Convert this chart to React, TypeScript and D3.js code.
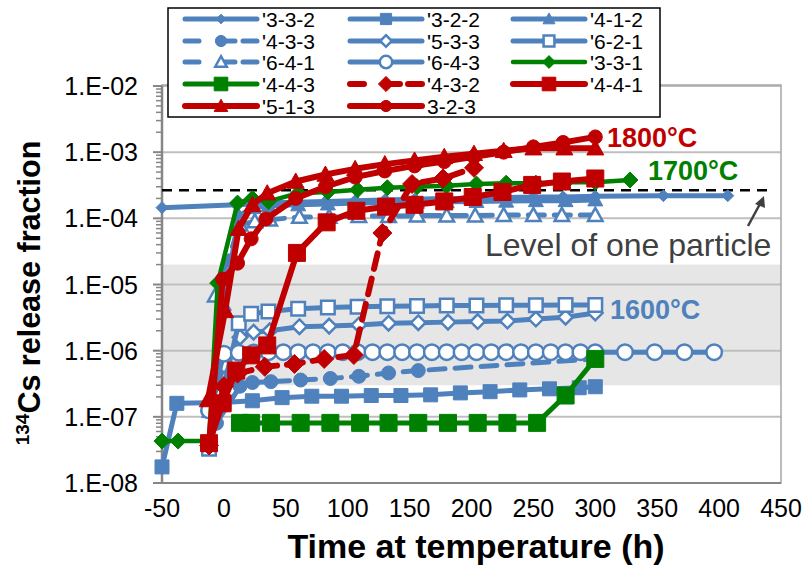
import React from "react";
import * as d3 from "d3";

// ---------- data ----------
const xTicks = [-50, 0, 50, 100, 150, 200, 250, 300, 350, 400, 450];
const yTickLabels = ["1.E-08", "1.E-07", "1.E-06", "1.E-05", "1.E-04", "1.E-03", "1.E-02"];
const yTickValues = [1e-8, 1e-7, 1e-6, 1e-5, 1e-4, 1e-3, 1e-2];

const t332 = [-50, 10, 34, 58, 82, 106, 130, 154, 178, 202, 226, 250, 274, 300, 355, 407];
const v332 = [1.45e-4, 1.6e-4, 1.7e-4, 1.75e-4, 1.8e-4, 1.85e-4, 1.9e-4, 1.95e-4, 2.0e-4, 2.0e-4, 2.05e-4, 2.1e-4, 2.1e-4, 2.15e-4, 2.2e-4, 2.2e-4];

const t322 = [-50, -38, 0, 23, 47, 71, 95, 119, 143, 167, 191, 215, 239, 263, 287, 300];
const v322 = [1.75e-8, 1.6e-7, 1.65e-7, 1.75e-7, 1.95e-7, 2.05e-7, 2.05e-7, 2.1e-7, 2.1e-7, 2.15e-7, 2.3e-7, 2.4e-7, 2.55e-7, 2.65e-7, 2.75e-7, 2.85e-7];

const t412 = [-12, 0, 12, 24, 36, 60, 84, 108, 132, 156, 180, 204, 228, 252, 276, 300];
const v412 = [1.2e-7, 5e-6, 1.1e-4, 1.45e-4, 1.55e-4, 1.6e-4, 1.65e-4, 1.7e-4, 1.72e-4, 1.75e-4, 1.78e-4, 1.8e-4, 1.82e-4, 1.85e-4, 1.85e-4, 1.9e-4];

const t433 = [-6, 13, 23, 38, 62, 86, 109, 133, 157, 300];
const v433 = [8e-8, 2.9e-7, 3.3e-7, 3.4e-7, 3.6e-7, 3.8e-7, 4.1e-7, 4.6e-7, 5e-7, 7.5e-7];

const t533 = [-12, 0, 13, 24, 37, 61, 85, 109, 133, 157, 181, 205, 229, 252, 276, 300];
const v533 = [1.2e-7, 6e-7, 1.6e-6, 1.9e-6, 2.0e-6, 2.3e-6, 2.35e-6, 2.45e-6, 2.6e-6, 2.65e-6, 2.7e-6, 2.75e-6, 2.8e-6, 3.0e-6, 3.2e-6, 3.7e-6];

const t621 = [-12, 12, 22, 36, 60, 84, 108, 132, 156, 180, 204, 228, 252, 276, 300];
const v621 = [3.3e-8, 2.6e-6, 3.6e-6, 3.9e-6, 4.3e-6, 4.5e-6, 4.6e-6, 4.7e-6, 4.75e-6, 4.8e-6, 4.8e-6, 4.85e-6, 4.85e-6, 4.9e-6, 4.9e-6];

const t641 = [-7, 13, 25, 37, 61, 85, 109, 133, 156, 180, 203, 226, 250, 273, 300];
const v641 = [6.8e-6, 8e-5, 9e-5, 9.5e-5, 1.05e-4, 1.05e-4, 1.08e-4, 1.08e-4, 1.1e-4, 1.1e-4, 1.1e-4, 1.12e-4, 1.12e-4, 1.12e-4, 1.12e-4];

const t643 = [-12, 0, 12, 24, 36, 48, 60, 72, 84, 96, 108, 120, 132, 144, 156, 168, 180, 192, 204, 216, 228, 240, 252, 264, 276, 288, 300, 324, 348, 372, 396];
const v643 = [1.25e-7, 9e-7, 9.3e-7, 9.4e-7, 9.5e-7, 9.5e-7, 9.5e-7, 9.5e-7, 9.5e-7, 9.5e-7, 9.5e-7, 9.5e-7, 9.5e-7, 9.5e-7, 9.5e-7, 9.5e-7, 9.5e-7, 9.5e-7, 9.5e-7, 9.5e-7, 9.5e-7, 9.5e-7, 9.5e-7, 9.5e-7, 9.5e-7, 9.5e-7, 9.5e-7, 9.5e-7, 9.5e-7, 9.5e-7, 9.5e-7];

const t331 = [-50, -37, -12, -5, 11, 23, 36, 60, 84, 108, 132, 156, 180, 204, 228, 252, 276, 300, 328];
const v331 = [4.3e-8, 4.3e-8, 4.3e-8, 1.05e-5, 1.7e-4, 2.0e-4, 1.8e-4, 2.4e-4, 2.5e-4, 2.7e-4, 2.9e-4, 3.0e-4, 3.1e-4, 3.3e-4, 3.4e-4, 3.4e-4, 3.5e-4, 3.5e-4, 3.8e-4];

const t443 = [13, 22, 38, 62, 86, 110, 133, 157, 181, 205, 229, 253, 276, 300];
const v443 = [8.1e-8, 8.1e-8, 8.1e-8, 8.1e-8, 8.1e-8, 8.1e-8, 8.1e-8, 8.1e-8, 8.1e-8, 8.1e-8, 8.1e-8, 8.1e-8, 2.1e-7, 7.5e-7];

const t432 = [-12, 0, 11, 33, 57, 81, 105, 128, 152, 177, 202];
const v432 = [3.7e-8, 2.9e-7, 4.5e-7, 5.7e-7, 6.3e-7, 7.5e-7, 8.6e-7, 6e-5, 3.3e-4, 4e-4, 5.8e-4];

const t441 = [-12, -1, 10, 22, 35, 59, 83, 107, 131, 154, 178, 201, 225, 249, 273, 300];
const v441 = [4e-8, 1.6e-7, 5e-7, 8.5e-7, 1.2e-6, 3e-5, 8.7e-5, 1.3e-4, 1.5e-4, 1.6e-4, 1.8e-4, 2.1e-4, 2.5e-4, 3.2e-4, 3.6e-4, 4e-4];

const t513 = [-13, 1, 12, 23, 35, 58, 82, 106, 130, 154, 178, 202, 226, 250, 275, 300];
const v513 = [1.8e-7, 4e-6, 7e-5, 1.6e-4, 2.4e-4, 3.6e-4, 4.6e-4, 5.6e-4, 6.6e-4, 7.5e-4, 8.5e-4, 9.5e-4, 1.05e-3, 1.15e-3, 1.15e-3, 1.15e-3];

const t323 = [-12, -1, 11, 22, 34, 58, 82, 106, 130, 154, 178, 202, 226, 250, 274, 300];
const v323 = [4e-8, 1.2e-5, 2.1e-5, 4.9e-5, 9.8e-5, 2e-4, 3e-4, 4.2e-4, 5.2e-4, 6.2e-4, 7.2e-4, 8.5e-4, 1.0e-3, 1.2e-3, 1.4e-3, 1.7e-3];

const onePartLevel = 2.65e-4;
const bandLow = 3e-7;
const bandHigh = 2e-5;

// ---------- styles ----------
const BLUE = "#4F81BD";
const GREEN = "#008000";
const RED = "#C00000";

type Mk = "diamond" | "square" | "triangle" | "circle";
interface Series {
  name: string; t: number[]; v: number[]; color: string; marker: Mk; open: boolean;
  size: number; width: number; dashed: boolean;
}

const series: Series[] = [
  { name: "'3-3-2", t: t332, v: v332, color: BLUE, marker: "diamond", open: false, size: 12, width: 5, dashed: false },
  { name: "'3-2-2", t: t322, v: v322, color: BLUE, marker: "square", open: false, size: 14, width: 5, dashed: false },
  { name: "'4-1-2", t: t412, v: v412, color: BLUE, marker: "triangle", open: false, size: 15, width: 5, dashed: false },
  { name: "'4-3-3", t: t433, v: v433, color: BLUE, marker: "circle", open: false, size: 14, width: 5, dashed: true },
  { name: "'5-3-3", t: t533, v: v533, color: BLUE, marker: "diamond", open: true, size: 17, width: 5, dashed: false },
  { name: "'6-2-1", t: t621, v: v621, color: BLUE, marker: "square", open: true, size: 16, width: 5, dashed: false },
  { name: "'6-4-1", t: t641, v: v641, color: BLUE, marker: "triangle", open: true, size: 17, width: 5, dashed: true },
  { name: "'6-4-3", t: t643, v: v643, color: BLUE, marker: "circle", open: true, size: 18, width: 5, dashed: false },
  { name: "'3-3-1", t: t331, v: v331, color: GREEN, marker: "diamond", open: false, size: 16, width: 4.5, dashed: false },
  { name: "'4-4-3", t: t443, v: v443, color: GREEN, marker: "square", open: false, size: 17, width: 5, dashed: false },
  { name: "'4-3-2", t: t432, v: v432, color: RED, marker: "diamond", open: false, size: 19, width: 6, dashed: true },
  { name: "'4-4-1", t: t441, v: v441, color: RED, marker: "square", open: false, size: 17, width: 6, dashed: false },
  { name: "'5-1-3", t: t513, v: v513, color: RED, marker: "triangle", open: false, size: 17, width: 6, dashed: false },
  { name: "3-2-3", t: t323, v: v323, color: RED, marker: "circle", open: false, size: 14, width: 6, dashed: false },
];

const FONT = "'Liberation Sans', Arial, sans-serif";

function markerPath(m: Mk, s: number): string {
  const h = s / 2;
  switch (m) {
    case "diamond":
      return `M0,${-h}L${h},0L0,${h}L${-h},0Z`;
    case "square":
      return `M${-h},${-h}H${h}V${h}H${-h}Z`;
    case "triangle":
      return `M0,${-h}L${h},${h * 0.8}L${-h},${h * 0.8}Z`;
    default:
      return `M${h},0A${h},${h} 0 1,1 ${-h},0A${h},${h} 0 1,1 ${h},0Z`;
  }
}

function Marker({ s, x, y, scale = 1 }: { s: Series; x: number; y: number; scale?: number }) {
  const size = (s.open ? s.size - 2.5 : s.size) * scale;
  return (
    <path
      d={markerPath(s.marker, size)}
      transform={`translate(${x},${y})`}
      fill={s.open ? "#ffffff" : s.color}
      stroke={s.color}
      strokeWidth={s.open ? 2.5 : 1}
    />
  );
}

export default function App() {
  const W = 803, H = 566;
  const x = d3.scaleLinear().domain([-50, 450]).range([162, 781]);
  const y = d3.scaleLog().domain([1e-8, 1e-2]).range([483, 86]);
  const line = d3.line<[number, number]>().x((d) => x(d[0])).y((d) => y(d[1]));

  const minor: number[] = [];
  for (let e = -8; e < -2; e++) for (let k = 2; k <= 9; k++) minor.push(k * Math.pow(10, e));

  const legCols = [185, 350, 513];
  const legRows = [19, 41, 62, 84, 106];

  return (
    <svg width={W} height={H} style={{ display: "block", position: "absolute", left: 0, top: 0 }} fontFamily={FONT}>
      <rect x={0} y={0} width={W} height={H} fill="#fff" />
      {/* band */}
      <rect x={x(-50)} y={y(bandHigh)} width={x(450) - x(-50)} height={y(bandLow) - y(bandHigh)} fill="#E6E6E6" />
      {/* gridlines */}
      {yTickValues.map((v, i) => (
        <line key={i} x1={x(-50)} x2={x(450)} y1={y(v)} y2={y(v)} stroke="#BFBFBF" strokeWidth={2} />
      ))}
      {/* plot border */}
      <rect x={x(-50)} y={y(1e-2) - 1} width={x(450) - x(-50)} height={y(1e-8) - y(1e-2) + 1} fill="none" stroke="#A6A6A6" strokeWidth={1.5} />
      {/* y axis */}
      <line x1={x(-50)} x2={x(-50)} y1={y(1e-2)} y2={y(1e-8)} stroke="#868686" strokeWidth={2.5} />
      {yTickValues.map((v, i) => (
        <line key={"M" + i} x1={x(-50) - 9} x2={x(-50)} y1={y(v)} y2={y(v)} stroke="#868686" strokeWidth={2} />
      ))}
      {minor.map((v, i) => (
        <line key={"m" + i} x1={x(-50) - 6} x2={x(-50)} y1={y(v)} y2={y(v)} stroke="#868686" strokeWidth={1.5} />
      ))}
      {/* x axis */}
      <line x1={x(-50)} x2={x(450)} y1={y(1e-8)} y2={y(1e-8)} stroke="#868686" strokeWidth={2} />
      {/* tick labels */}
      {yTickValues.map((v, i) => (
        <text key={"yl" + i} x={138} y={y(v) + 9} textAnchor="end" fontSize={25} fill="#000">{yTickLabels[i]}</text>
      ))}
      {xTicks.map((t, i) => (
        <text key={"xl" + i} x={x(t)} y={517} textAnchor="middle" fontSize={25} fill="#000">{t}</text>
      ))}
      {/* axis titles */}
      <text x={476} y={558} textAnchor="middle" fontSize={34} fontWeight="bold">Time at temperature (h)</text>
      <text transform={`translate(40,${293}) rotate(-90)`} textAnchor="middle" fontSize={30.5} fontWeight="bold">
        <tspan fontSize={19} dy={-11}>134</tspan>
        <tspan dy={11}>Cs release fraction</tspan>
      </text>
      {/* one particle level */}
      <line x1={x(-50)} x2={x(440)} y1={y(onePartLevel)} y2={y(onePartLevel)} stroke="#000" strokeWidth={2.5} strokeDasharray="10,7" />
      {/* series */}
      {series.map((s, i) => {
        const pts = s.t.map((t, j) => [t, s.v[j]] as [number, number]);
        return (
          <g key={i}>
            <path d={line(pts) || ""} fill="none" stroke={s.color} strokeWidth={s.width}
              strokeDasharray={s.dashed ? "16,10" : undefined} strokeLinecap={s.dashed ? "round" : "butt"} strokeLinejoin="round" />
            {pts.map((p, j) => <Marker key={j} s={s} x={x(p[0])} y={y(p[1])} />)}
          </g>
        );
      })}
      {/* annotations */}
      <text x={485} y={256} fontSize={32} fill="#404040">Level of one particle</text>
      <line x1={748} y1={226} x2={761} y2={202} stroke="#404040" strokeWidth={2.5} />
      <path d="M764,196 L755,204 L765,208 Z" fill="#404040" />
      <text x={607} y={147} fontSize={27} fontWeight="bold" fill={RED}>1800°C</text>
      <text x={648} y={180} fontSize={27} fontWeight="bold" fill={GREEN}>1700°C</text>
      <text x={610} y={319} fontSize={27} fontWeight="bold" fill={BLUE}>1600°C</text>
      {/* legend */}
      <rect x={168} y={8} width={492} height={109} fill="#fff" stroke="#000" strokeWidth={1.5} />
      {series.map((s, i) => {
        const cx = legCols[i % 3];
        const cy = legRows[Math.floor(i / 3)];
        const L = 72;
        return (
          <g key={"lg" + i}>
            <line x1={cx} x2={cx + L} y1={cy} y2={cy} stroke={s.color} strokeWidth={s.width}
              strokeDasharray={s.dashed ? "14,22" : undefined}
              strokeLinecap="round" />
            {s.dashed ? <line x1={cx + 58} x2={cx + L} y1={cy} y2={cy} stroke={s.color} strokeWidth={s.width} strokeLinecap="round" /> : null}
            <Marker s={s} x={cx + L / 2} y={cy} scale={0.8} />
            <text x={cx + 77} y={cy + 8} fontSize={21} fill="#000">{s.name}</text>
          </g>
        );
      })}
    </svg>
  );
}
